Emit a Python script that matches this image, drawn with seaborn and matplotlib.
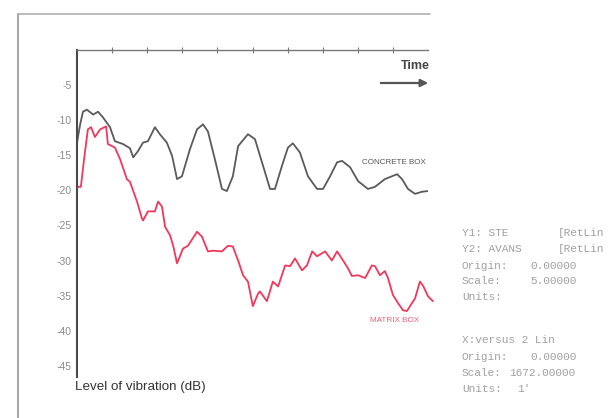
import numpy as np
import pandas as pd
import seaborn as sns
import matplotlib.pyplot as plt

# Vibration level (dB) against time, concrete box vs matrix box
concrete_time = [0.00, 0.09, 0.17, 0.28, 0.46, 0.60, 0.74, 0.94, 1.08, 1.31, 1.51, 1.60,
                 1.74, 1.88, 2.02, 2.22, 2.36, 2.56, 2.71, 2.85, 2.99, 3.22, 3.42, 3.59,
                 3.73, 3.93, 4.13, 4.27, 4.44, 4.59, 4.87, 5.07, 5.30, 5.50, 5.64, 5.84,
                 6.01, 6.15, 6.35, 6.58, 6.84, 7.01, 7.21, 7.41, 7.55, 7.78, 8.01, 8.29,
                 8.49, 8.77, 9.12, 9.26, 9.43, 9.63, 9.83, 10.00]
concrete_db = [-13.2, -10.6, -8.8, -8.5, -9.2, -8.8, -9.6, -11.0, -13.0, -13.4, -14.0, -15.3,
               -14.4, -13.2, -13.0, -11.0, -12.0, -13.2, -15.1, -18.4, -18.0, -14.1, -11.3, -10.6,
               -11.6, -15.6, -19.8, -20.1, -18.0, -13.7, -12.0, -12.7, -16.5, -19.8, -19.8, -16.5,
               -13.9, -13.3, -14.6, -18.0, -19.8, -19.8, -18.0, -16.0, -15.8, -16.7, -18.7, -19.8,
               -19.5, -18.4, -17.7, -18.4, -19.8, -20.5, -20.2, -20.1]

matrix_time = [0.00, 0.11, 0.20, 0.31, 0.40, 0.51, 0.66, 0.83, 0.88, 1.08, 1.23, 1.42,
               1.51, 1.71, 1.85, 1.88, 2.02, 2.22, 2.31, 2.42, 2.51, 2.65, 2.74, 2.85,
               3.02, 3.16, 3.42, 3.56, 3.73, 3.87, 4.13, 4.30, 4.44, 4.59, 4.73, 4.87,
               5.01, 5.16, 5.21, 5.41, 5.58, 5.73, 5.93, 6.07, 6.21, 6.41, 6.55, 6.70,
               6.84, 7.07, 7.26, 7.41, 7.58, 7.72, 7.83, 8.01, 8.21, 8.40, 8.49, 8.63,
               8.77, 8.86, 9.00, 9.15, 9.29, 9.40, 9.54, 9.63, 9.77, 9.86, 10.00, 10.14]
matrix_db = [-19.5, -19.5, -15.6, -11.3, -11.0, -12.4, -11.3, -10.9, -13.4, -13.9, -15.6, -18.4,
             -18.8, -21.6, -24.0, -24.3, -23.0, -23.0, -21.6, -22.3, -25.2, -26.4, -27.9, -30.4,
             -28.3, -27.9, -25.9, -26.6, -28.7, -28.6, -28.7, -27.9, -28.0, -30.0, -32.1, -33.0,
             -36.5, -34.7, -34.4, -35.8, -33.0, -33.7, -30.7, -30.8, -29.7, -31.4, -30.7, -28.7,
             -29.4, -28.7, -30.0, -28.7, -30.0, -31.1, -32.2, -32.1, -32.5, -30.7, -30.8, -32.1,
             -31.5, -32.5, -34.9, -36.1, -37.1, -37.2, -36.1, -35.4, -33.0, -33.6, -35.1, -35.8]

y_ticks = [-5, -10, -15, -20, -25, -30, -35, -40, -45]
y_tick_labels = ["-5", "-10", "-15", "-20", "-25", "-30", "-35", "-40", "-45"]
top_ticks = [1, 2, 3, 4, 5, 6, 7, 8, 9]

concrete = pd.DataFrame({"time": concrete_time, "db": concrete_db})
matrix = pd.DataFrame({"time": matrix_time, "db": matrix_db})

sns.set_style("white")
plt.rcParams["font.family"] = ["Liberation Sans", "DejaVu Sans"]

fig = plt.figure(figsize=(6.11, 4.18), dpi=100)
fig.patch.set_facecolor("white")
ax = fig.add_axes([77 / 611, 1 - 377 / 418, 351 / 611, 327 / 418])
ax.set_facecolor("none")

sns.lineplot(data=concrete, x="time", y="db", ax=ax, color="#5a5a5a", lw=1.3,
             sort=False, estimator=None, solid_joinstyle="round")
sns.lineplot(data=matrix, x="time", y="db", ax=ax, color="#f2385a", lw=1.3,
             sort=False, estimator=None, clip_on=False, solid_joinstyle="round")

ax.set_xlim(0, 10)
ax.set_ylim(-46.6, 0)
ax.set_xlabel("")
ax.set_ylabel("")

# spines: only the left value axis and the top time axis
for side in ("right", "bottom"):
    ax.spines[side].set_visible(False)
ax.spines["left"].set_color("#4a4a4a")
ax.spines["left"].set_linewidth(1.5)
ax.spines["top"].set_color("#777777")
ax.spines["top"].set_linewidth(1.0)

ax.set_yticks(y_ticks)
ax.set_yticklabels(y_tick_labels)
ax.tick_params(axis="y", direction="in", length=5, width=1, color="#555555",
               labelsize=7.5, labelcolor="#8a8a8a", pad=4)
ax.xaxis.tick_top()
ax.set_xticks(top_ticks)
ax.tick_params(axis="x", direction="inout", length=4, width=0.8, color="#777777",
               labeltop=False, labelbottom=False)

# series labels
ax.text(8.12, -16.0, "CONCRETE BOX", fontsize=5.8, color="#555555", va="center", ha="left")
ax.text(8.35, -38.6, "MATRIX BOX", fontsize=5.9, color="#f0607c", va="center", ha="left",
        clip_on=False)

# time direction marker
fig.text(430 / 611, 1 - 66 / 418, "Time", fontsize=9, fontweight="bold", color="#444444",
         ha="right", va="center")
ax.annotate("", xy=(431, 418 - 83), xytext=(378, 418 - 83), xycoords="figure pixels",
            textcoords="figure pixels",
            arrowprops=dict(arrowstyle="-|>", color="#555555", lw=1.6, mutation_scale=11))

fig.text(75 / 611, 1 - 387 / 418, "Level of vibration (dB)", fontsize=9.6, color="#333333",
         ha="left", va="center")

# plotter settings block
mono = dict(family=["Liberation Mono", "DejaVu Sans Mono"], fontsize=8, color="#a0a0a0",
            ha="left", va="center")
settings = [
    (462, 233, "Y1: STE"), (558, 233, "[RetLin"),
    (462, 249, "Y2: AVANS"), (558, 249, "[RetLin"),
    (462, 266, "Origin:"), (530, 266, "0.00000"),
    (462, 281, "Scale:"), (530, 281, "5.00000"),
    (462, 297, "Units:"),
    (462, 340, "X:versus 2 Lin"),
    (462, 357, "Origin:"), (530, 357, "0.00000"),
    (462, 373, "Scale:"), (509, 373, "1672.00000"),
    (462, 389, "Units:"), (517, 389, "1'"),
]
for px, py, s in settings:
    fig.text(px / 611, 1 - py / 418, s, **mono)

# page border
fig.add_artist(plt.Line2D([18 / 611, 18 / 611], [0, 1 - 14 / 418], color="#a8a8a8", lw=1.5,
                          transform=fig.transFigure))
fig.add_artist(plt.Line2D([18 / 611, 430 / 611], [1 - 14 / 418, 1 - 14 / 418], color="#b0b0b0",
                          lw=1.2, transform=fig.transFigure))

fig.savefig("out.png", dpi=100)
